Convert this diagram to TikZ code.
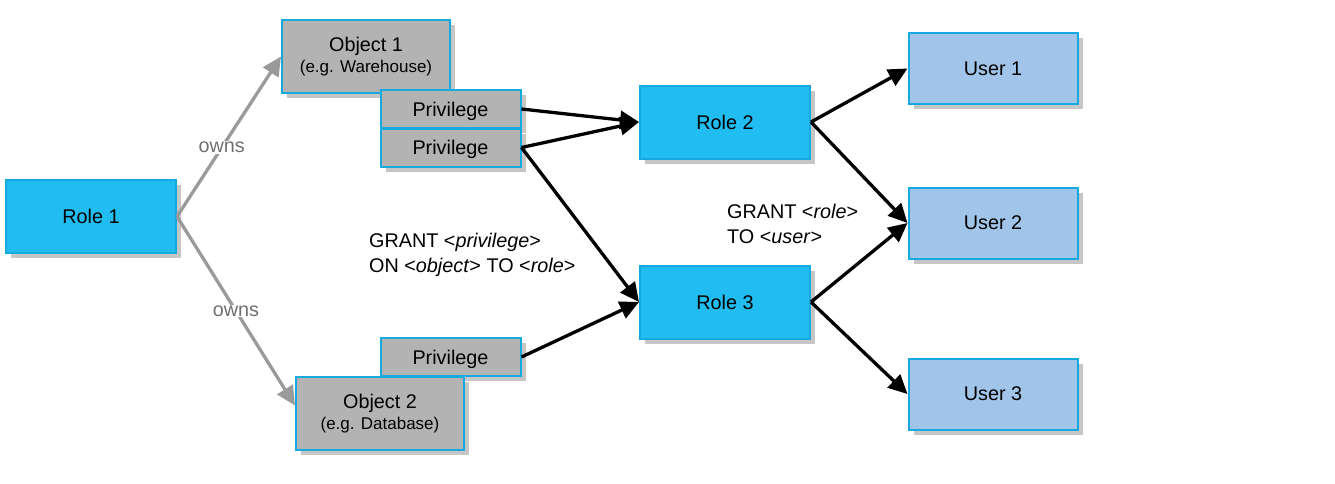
\documentclass[tikz,border=0pt]{standalone}
\usepackage{fontspec}
\setmainfont{Liberation Sans}
\usetikzlibrary{arrows.meta,shadows}
\definecolor{roleblue}{HTML}{21BDF0}
\definecolor{edgeblue}{HTML}{16A9E0}
\definecolor{userblue}{HTML}{A0C5E8}
\definecolor{objgray}{HTML}{B3B3B3}
\definecolor{shadowgray}{HTML}{C6C6C6}
\definecolor{ownsgray}{HTML}{9A9A9A}
\definecolor{ownstext}{HTML}{707070}
\begin{document}
\begin{tikzpicture}[x=1pt,y=-1pt,
  box/.style={draw=edgeblue, line width=2pt, rectangle, inner sep=0pt, align=center,
    font=\fontsize{19.8}{22}\selectfont,
    drop shadow={shadow xshift=5pt, shadow yshift=-5pt, fill=shadowgray, opacity=1}},
  rolebox/.style={box, fill=roleblue, minimum width=170pt, minimum height=73pt},
  userbox/.style={box, fill=userblue, minimum width=169pt, minimum height=71pt},
  objbox/.style={box, fill=objgray, minimum width=168pt, minimum height=73pt},
  privbox/.style={box, fill=objgray, minimum width=140pt, minimum height=38pt, text height=14.2pt, text depth=0pt},
  grant/.style={line width=3.3pt, black, -{Triangle[length=19pt,width=18pt]}},
  owns/.style={line width=3.3pt, ownsgray, -{Triangle[length=19pt,width=18pt]}},
  ownslabel/.style={fill=white, text=ownstext, inner sep=1pt, font=\fontsize{19.8}{22}\selectfont},
  note/.style={align=left, anchor=west, inner sep=0pt, font=\fontsize{19.8}{24.5}\selectfont}
]
\useasboundingbox (0,0) rectangle (1335,483);

% objects and privileges
\node[objbox] (o1) at (366,56.5) {Object 1\\[-1pt]{\fontsize{17}{20}\selectfont (e.g. Warehouse)}};
\node[privbox] (pa) at (450.5,109) {Privilege};
\node[privbox] (pb) at (450.5,147.5) {Privilege};
\node[privbox] (pc) at (450.5,357) {Privilege};
\node[objbox] (o2) at (380,413.5) {Object 2\\[-1pt]{\fontsize{17}{20}\selectfont (e.g. Database)}};

% roles
\node[rolebox] (r1) at (91,216.5) {Role 1};
\node[rolebox] (r2) at (725,122) {Role 2};
\node[rolebox] (r3) at (725,302) {Role 3};

% users
\node[userbox] (u1) at (993,68.5) {User 1};
\node[userbox] (u2) at (993,223) {User 2};
\node[userbox] (u3) at (993,394) {User 3};

% owns
\draw[owns] (r1.east) -- (o1.west) node[pos=0.43, ownslabel] {owns};
\draw[owns] (r1.east) -- ([yshift=8pt]o2.west) node[pos=0.5, ownslabel] {owns};

% grants
\draw[grant] (pa.east) -- (r2.west);
\draw[grant] (pb.east) -- (r2.west);
\draw[grant] (pb.east) -- (r3.west);
\draw[grant] (pc.east) -- (r3.west);
\draw[grant] (r2.east) -- (u1.west);
\draw[grant] (r2.east) -- (u2.west);
\draw[grant] (r3.east) -- (u2.west);
\draw[grant] (r3.east) -- (u3.west);

% notes
\node[note] (n1) at (369,255) {GRANT <\textit{privilege}>\\ON <\textit{object}> TO <\textit{role}>};
\node[note] (n2) at (727,224) {GRANT <\textit{role}>\\TO <\textit{user}>};
\end{tikzpicture}
\end{document}
